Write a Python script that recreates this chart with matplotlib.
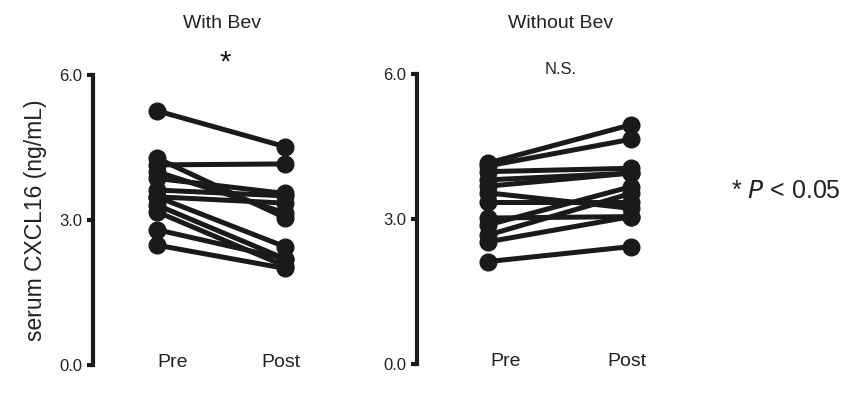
import matplotlib
matplotlib.use("Agg")
import matplotlib.pyplot as plt
from matplotlib.transforms import blended_transform_factory

plt.rcParams['font.family'] = ['Liberation Sans', 'DejaVu Sans']

# serum CXCL16 (ng/mL), paired pre/post values per patient
with_bev_pre = [5.26, 4.28, 4.14, 4.00, 3.86, 3.62, 3.48, 3.48, 3.31, 3.17, 2.80, 2.48]
with_bev_post = [4.52, 3.05, 4.16, 3.15, 3.55, 3.50, 3.35, 2.45, 2.20, 2.05, 2.20, 2.00]

without_bev_pre = [4.16, 4.10, 3.98, 3.81, 3.68, 3.54, 3.36, 3.02, 2.88, 2.67, 2.53, 2.12]
without_bev_post = [4.95, 4.65, 4.05, 3.95, 3.95, 3.22, 3.36, 3.05, 3.67, 3.53, 3.05, 2.43]

timepoints = ["Pre", "Post"]
panel_titles = ["With Bev", "Without Bev"]
significance = ["*", "N.S."]
y_ticks = [0.0, 3.0, 6.0]

W, H = 853, 400
fig = plt.figure(figsize=(W / 100, H / 100), dpi=100)

def px_axes(x0, x1, y_top, y_bot):
    return fig.add_axes([x0 / W, 1 - y_bot / H, (x1 - x0) / W, (y_bot - y_top) / H])

ax1 = px_axes(93, 323, 75, 365)
ax2 = px_axes(417, 674, 74, 364)

panels = [
    (ax1, with_bev_pre, with_bev_post),
    (ax2, without_bev_pre, without_bev_post),
]

for i, (ax, pre, post) in enumerate(panels):
    for a, b in zip(pre, post):
        ax.plot([0, 1], [a, b], color="#1a1a1a", lw=3.6, marker="o",
                markersize=12, solid_capstyle="round", clip_on=False)
    ax.set_xlim(-0.5, 1.3)
    ax.set_ylim(0, 6)
    for s in ["top", "right", "bottom"]:
        ax.spines[s].set_visible(False)
    ax.spines["left"].set_linewidth(3)
    ax.spines["left"].set_color("#1a1a1a")
    ax.set_xticks([])
    ax.set_yticks(y_ticks)
    ax.set_yticklabels([f"{v:.1f}" for v in y_ticks], fontsize=12, color="#222222")
    ax.tick_params(axis="y", length=4, width=3, color="#1a1a1a", pad=4)
    ax.patch.set_visible(False)

    tr = blended_transform_factory(ax.transData, ax.transAxes)
    # Pre / Post labels under each set of points
    ax.text(0.12, 0.01, timepoints[0], fontsize=14, ha="center", va="center",
            transform=tr, color="#222222")
    ax.text(0.97, 0.01, timepoints[1], fontsize=14, ha="center", va="center",
            transform=tr, color="#222222")

# panel titles and significance marks
fig.text(222 / W, 1 - 23 / H, panel_titles[0], fontsize=14, ha="center", va="center",
         color="#222222")
fig.text(561 / W, 1 - 23 / H, panel_titles[1], fontsize=14, ha="center", va="center",
         color="#222222")
fig.text(225 / W, 1 - 63 / H, significance[0], fontsize=21, ha="center", va="center",
         color="#111111")
fig.text(561 / W, 1 - 70 / H, significance[1], fontsize=12, ha="center", va="center",
         color="#222222")

fig.text(36 / W, 1 - 220 / H, "serum CXCL16 (ng/mL)", fontsize=16.5, rotation=90,
         ha="center", va="center", color="#222222")

fig.text(731 / W, 1 - 191 / H, r"* $\it{P}$ < 0.05", fontsize=18, ha="left",
         va="center", color="#222222")

fig.savefig("out.png", dpi=100)
